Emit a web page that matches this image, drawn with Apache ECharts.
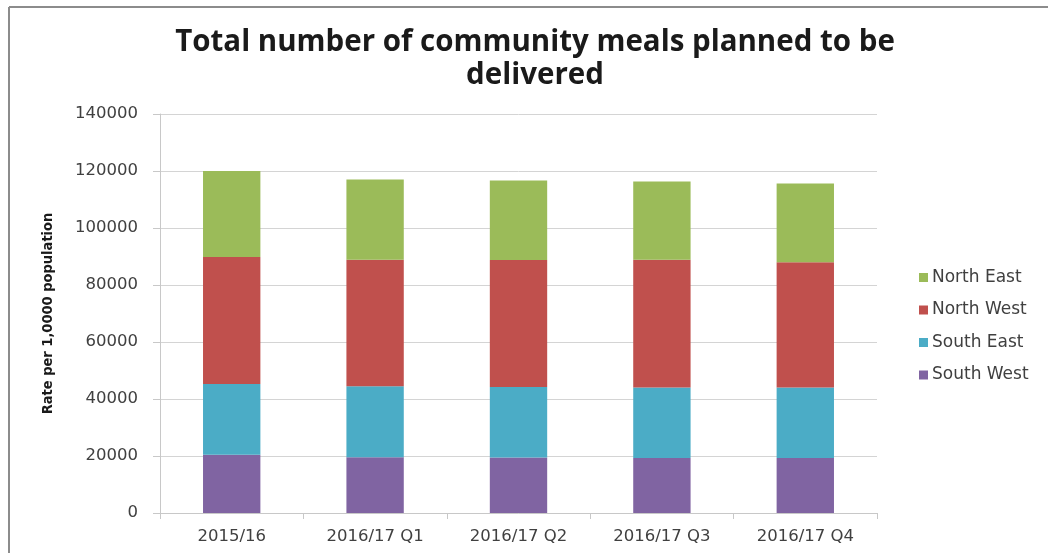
<!DOCTYPE html>
<html>
<head>
<meta charset="utf-8">
<title>Community meals planned</title>
<script src="https://cdn.jsdelivr.net/npm/echarts@6/dist/echarts.min.js"></script>
<style>
  html, body { margin: 0; padding: 0; background: #ffffff; }
  #chart { width: 1048px; height: 553px; }
</style>
</head>
<body>
<div id="chart"></div>
<script>
// Reporting periods along the x axis
var categories = ['2015/16', '2016/17 Q1', '2016/17 Q2', '2016/17 Q3', '2016/17 Q4'];

// Meals planned per region (stacked bottom to top)
var southWest = [20400, 19600, 19500, 19300, 19300];
var southEast = [24900, 24900, 24700, 24700, 24700];
var northWest = [44500, 44400, 44600, 44900, 44000];
var northEast = [30200, 28100, 27900, 27400, 27600];

// Value axis ticks
var yTicks = [0, 20000, 40000, 60000, 80000, 100000, 120000, 140000];

var chart = echarts.init(document.getElementById('chart'), null, { renderer: 'canvas' });

function barSeries(name, data, color) {
  return {
    name: name,
    type: 'bar',
    stack: 'total',
    data: data,
    barWidth: '40%',
    itemStyle: { color: color },
    emphasis: { disabled: true }
  };
}

chart.setOption({
  animation: false,
  backgroundColor: '#ffffff',
  title: {
    text: 'Total number of community meals planned to be\ndelivered',
    left: 530,
    top: 21,
    textAlign: 'center',
    textStyle: {
      fontFamily: 'Open Sans',
      fontWeight: 'bold',
      fontSize: 29.5,
      lineHeight: 33,
      color: '#1a1a1a'
    }
  },
  grid: { left: 160, right: 171, top: 114, bottom: 40, containLabel: false },
  legend: {
    orient: 'vertical',
    left: 914,
    top: 264,
    itemWidth: 9,
    itemHeight: 9,
    itemGap: 15.5,
    icon: 'rect',
    data: ['North East', 'North West', 'South East', 'South West'],
    textStyle: { fontFamily: 'DejaVu Sans', fontSize: 17, color: '#404040', padding: [0, 0, 0, -1] }
  },
  xAxis: {
    type: 'category',
    data: categories,
    axisLine: { lineStyle: { color: '#c8c8c8', width: 1 } },
    axisTick: { show: true, length: 6, lineStyle: { color: '#c8c8c8' } },
    axisLabel: { fontFamily: 'DejaVu Sans', fontSize: 16.5, color: '#404040', margin: 15 }
  },
  yAxis: {
    type: 'value',
    min: yTicks[0],
    max: yTicks[yTicks.length - 1],
    interval: yTicks[1] - yTicks[0],
    name: 'Rate per 1,0000 population',
    nameLocation: 'middle',
    nameGap: 104,
    nameTextStyle: {
      fontFamily: 'DejaVu Sans Condensed, Liberation Sans, sans-serif',
      fontWeight: 'bold',
      fontSize: 14.5,
      color: '#1a1a1a'
    },
    axisLine: { show: true, lineStyle: { color: '#c8c8c8', width: 1 } },
    axisTick: { show: true, length: 7, lineStyle: { color: '#c8c8c8' } },
    axisLabel: {
      fontFamily: 'DejaVu Sans',
      fontSize: 16.5,
      color: '#404040',
      margin: 22,
      formatter: function (v) { return String(v); }
    },
    splitLine: { lineStyle: { color: '#d4d4d4', width: 1 } }
  },
  series: [
    barSeries('South West', southWest, '#8064A2'),
    barSeries('South East', southEast, '#4BACC6'),
    barSeries('North West', northWest, '#C0504D'),
    barSeries('North East', northEast, '#9BBB59')
  ],
  graphic: [
    { type: 'line', shape: { x1: 9, y1: 7, x2: 1048, y2: 7 }, style: { stroke: '#8c8c8c', lineWidth: 2 }, silent: true },
    { type: 'line', shape: { x1: 9, y1: 7, x2: 9, y2: 553 }, style: { stroke: '#8c8c8c', lineWidth: 2 }, silent: true }
  ]
});
</script>
</body>
</html>
